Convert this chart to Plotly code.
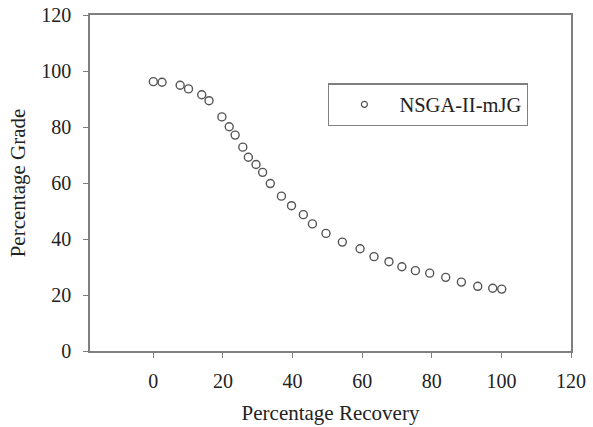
import plotly.graph_objects as go

recovery = [0.0, 2.5, 7.7, 10.1, 13.9, 16.0, 19.7, 21.8, 23.5, 25.7, 27.3, 29.5,
            31.4, 33.6, 36.8, 39.7, 43.1, 45.7, 49.6, 54.3, 59.4, 63.4, 67.7,
            71.4, 75.3, 79.4, 84.0, 88.5, 93.2, 97.5, 100.1]
grade = [96.2, 96.0, 94.9, 93.6, 91.5, 89.4, 83.6, 80.1, 77.1, 72.8, 69.2, 66.6,
         63.8, 59.8, 55.3, 51.9, 48.7, 45.4, 42.0, 38.9, 36.5, 33.7, 31.9,
         30.1, 28.7, 27.8, 26.3, 24.6, 23.1, 22.4, 22.1]
series_name = "NSGA-II-mJG"
x_ticks = [0, 20, 40, 60, 80, 100, 120]
y_ticks = [0, 20, 40, 60, 80, 100, 120]

FONT = "Liberation Serif"
AXC = "#7f7f7f"
MKC = "#555555"
TXC = "#222222"

fig = go.Figure()
fig.add_trace(go.Scatter(
    x=recovery, y=grade, mode="markers", name=series_name, showlegend=False,
    marker=dict(symbol="circle-open", size=8, color=MKC, line=dict(width=1.4, color=MKC)),
))
fig.add_trace(go.Scatter(
    x=[None], y=[None], mode="markers", name=series_name, showlegend=True,
    marker=dict(symbol="circle-open", size=6, color=MKC, line=dict(width=1.2, color=MKC)),
))

axis_common = dict(
    showline=True, linecolor=AXC, linewidth=1.5, mirror=True,
    ticks="outside", ticklen=5, tickcolor=AXC, tickwidth=1.2,
    showgrid=False, zeroline=False, automargin=False,
    tickfont=dict(family=FONT, size=20, color=TXC),
)

fig.update_layout(
    width=593, height=427,
    margin=dict(l=90, r=22, t=15, b=76),
    paper_bgcolor="white", plot_bgcolor="white",
    font=dict(family=FONT, size=20, color=TXC),
    xaxis=dict(range=[-18.2, 120], tickvals=x_ticks,
               title=dict(text="Percentage Recovery", font=dict(family=FONT, size=21, color=TXC), standoff=15),
               ticklabelstandoff=6, **axis_common),
    yaxis=dict(range=[0, 120], tickvals=y_ticks,
               title=dict(text="Percentage Grade", font=dict(family=FONT, size=21, color=TXC), standoff=10),
               ticklabelstandoff=8, **axis_common),
    legend=dict(x=0.495, y=0.797, xanchor="left", yanchor="top",
                bordercolor=AXC, borderwidth=1.3, bgcolor="white",
                itemwidth=60, font=dict(family=FONT, size=20.5, color=TXC)),
)

fig.write_html("out.html")
